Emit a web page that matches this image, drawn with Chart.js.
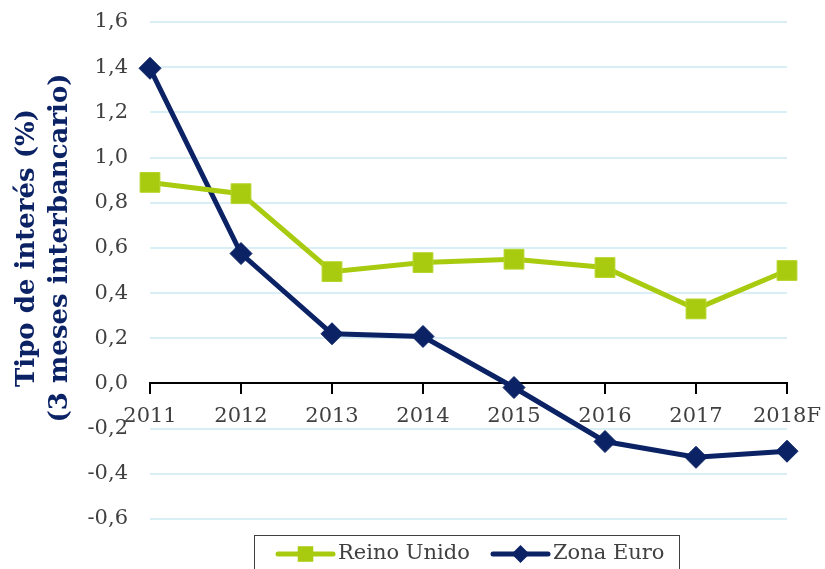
<!DOCTYPE html>
<html>
<head>
<meta charset="utf-8">
<script src="https://cdn.jsdelivr.net/npm/chart.js@4/dist/chart.umd.min.js"></script>
<style>
  html, body { margin: 0; padding: 0; background: #fff; }
  #wrap { width: 825px; height: 569px; }
</style>
</head>
<body>
<div id="wrap"><canvas id="chart" width="825" height="569"></canvas></div>
<script>
const years = ["2011", "2012", "2013", "2014", "2015", "2016", "2017", "2018F"];
const reinoUnido = [0.89, 0.84, 0.495, 0.535, 0.55, 0.513, 0.33, 0.50];
const zonaEuro = [1.395, 0.575, 0.22, 0.208, -0.018, -0.257, -0.327, -0.30];
const yTitleLines = ["Tipo de interés (%)", "(3 meses interbancario)"];

const green = "#a9cb0f";
const navy = "#0b2265";
const textGray = "#404040";
const serif = "'DejaVu Serif', 'Liberation Serif', serif";

// y axis title drawn by hand so it sits where the original has it
const yTitlePlugin = {
    id: "yTitle",
    afterDraw(chart) {
        const ctx = chart.ctx;
        ctx.save();
        ctx.translate(43, 248);
        ctx.rotate(-Math.PI / 2);
        ctx.fillStyle = navy;
        ctx.font = "bold 26px " + serif;
        ctx.textAlign = "center";
        ctx.textBaseline = "middle";
        ctx.fillText(yTitleLines[0], 0, -16);
        ctx.fillText(yTitleLines[1], 0, 17);
        ctx.restore();
    }
};

// legend in a box under the plot, line + marker like the original
const boxLegend = {
    id: "boxLegend",
    afterDraw(chart) {
        const ctx = chart.ctx;
        ctx.save();
        ctx.strokeStyle = "#404040";
        ctx.lineWidth = 1;
        ctx.strokeRect(254.5, 535.5, 425, 50);
        const cy = 554;
        const items = [
            { x: 278, ds: chart.data.datasets[0] },
            { x: 493, ds: chart.data.datasets[1] }
        ];
        ctx.font = "21px " + serif;
        ctx.textBaseline = "middle";
        items.forEach(it => {
            ctx.strokeStyle = it.ds.borderColor;
            ctx.lineWidth = 5;
            ctx.lineCap = "round";
            ctx.beginPath();
            ctx.moveTo(it.x, cy);
            ctx.lineTo(it.x + 55, cy);
            ctx.stroke();
            ctx.fillStyle = it.ds.pointBackgroundColor;
            ctx.strokeStyle = it.ds.pointBackgroundColor;
            Chart.helpers.drawPoint(ctx, {
                pointStyle: it.ds.pointStyle,
                rotation: 0,
                borderWidth: 0,
                radius: it.ds.pointStyle === "rect" ? 11 : 9
            }, it.x + 27.5, cy);
            ctx.fillStyle = textGray;
            ctx.textAlign = "left";
            ctx.fillText(it.ds.label, it.x + 60, cy);
        });
        ctx.restore();
    }
};

new Chart(document.getElementById("chart"), {
    type: "line",
    data: {
        labels: years,
        datasets: [
            {
                label: "Reino Unido",
                data: reinoUnido,
                borderColor: green,
                backgroundColor: green,
                pointBackgroundColor: green,
                pointBorderColor: "#b5d62a",
                pointBorderWidth: 1,
                borderWidth: 5,
                pointStyle: "rect",
                pointRadius: 14,
                tension: 0
            },
            {
                label: "Zona Euro",
                data: zonaEuro,
                borderColor: navy,
                backgroundColor: navy,
                pointBackgroundColor: navy,
                pointBorderColor: navy,
                pointBorderWidth: 1,
                borderWidth: 5,
                pointStyle: "rectRot",
                pointRadius: 11,
                tension: 0
            }
        ]
    },
    options: {
        responsive: false,
        animation: false,
        layout: {
            padding: { top: 22, right: 38, bottom: 50, left: 0 }
        },
        plugins: {
            legend: { display: false },
            tooltip: { enabled: false }
        },
        scales: {
            x: {
                position: { y: 0 },
                offset: false,
                afterFit(axis) {
                    axis.height = 0;
                    axis.paddingLeft = 0;
                    axis.paddingRight = 0;
                },
                border: { display: true, color: "#000", width: 2 },
                grid: {
                    drawOnChartArea: false,
                    drawTicks: true,
                    tickLength: 10,
                    color: "#000",
                    lineWidth: 2
                },
                ticks: {
                    color: textGray,
                    font: { family: serif, size: 21 },
                    padding: 10,
                    maxRotation: 0,
                    autoSkip: false
                }
            },
            y: {
                min: -0.6,
                max: 1.6,
                afterFit(axis) {
                    axis.width = 150;
                    axis.paddingTop = 0;
                    axis.paddingBottom = 0;
                },
                border: { display: false },
                grid: {
                    drawTicks: false,
                    lineWidth: 2,
                    color: ctx => (Math.abs(ctx.tick.value) < 1e-9 ? "rgba(0,0,0,0)" : "#daeef5")
                },
                ticks: {
                    stepSize: 0.2,
                    color: textGray,
                    font: { family: serif, size: 21 },
                    padding: 22,
                    callback: v => v.toFixed(1).replace(".", ",")
                }
            }
        }
    },
    plugins: [yTitlePlugin, boxLegend]
});
</script>
</body>
</html>
